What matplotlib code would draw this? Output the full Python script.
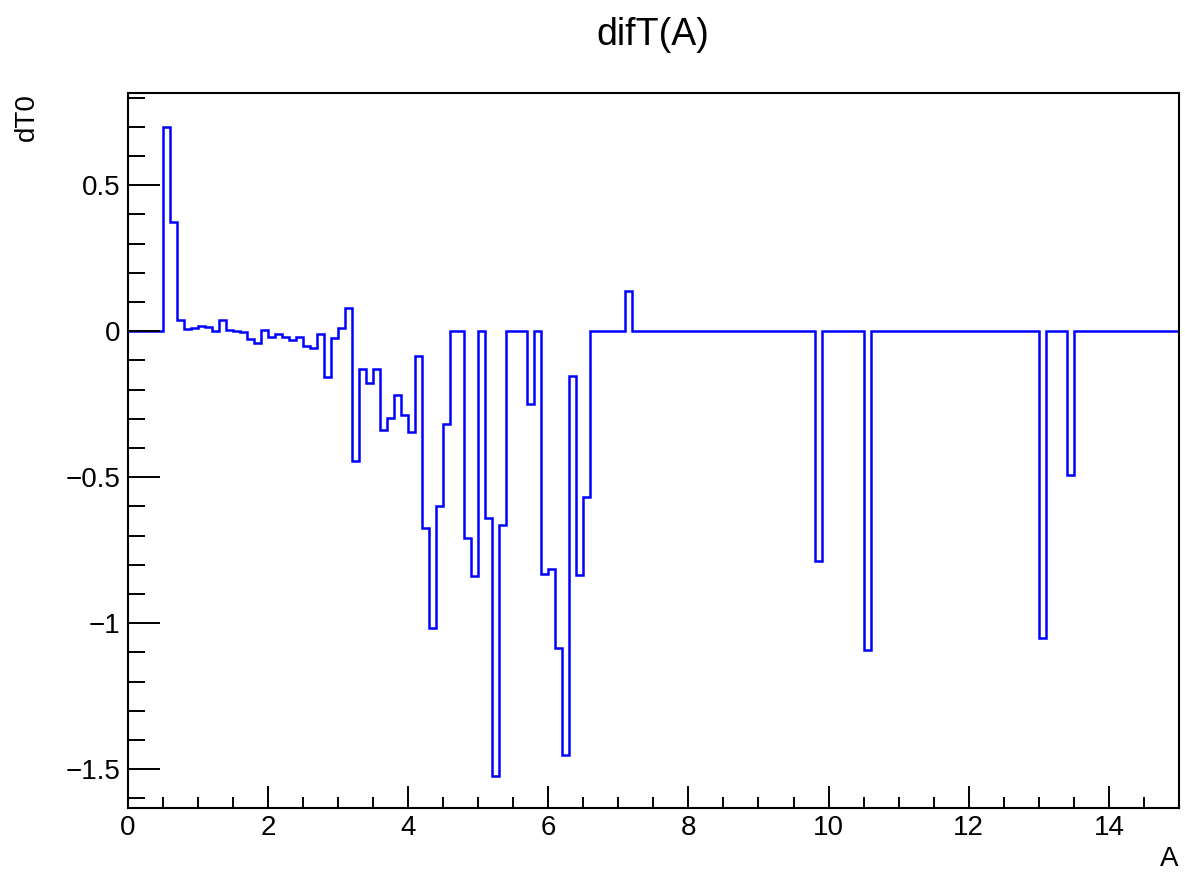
import numpy as np
import matplotlib
matplotlib.use("Agg")
import matplotlib.pyplot as plt
from matplotlib.ticker import MultipleLocator, FuncFormatter

plt.rcParams['font.family'] = ['Liberation Sans', 'DejaVu Sans']

# histogram: 150 bins of width 0.1 on [0, 15], only non-empty bins listed
a_lo = [0.5, 0.6, 0.7, 0.8, 0.9, 1.0, 1.1, 1.2, 1.3, 1.4,
        1.5, 1.6, 1.7, 1.8, 1.9, 2.0, 2.1, 2.2, 2.3, 2.4,
        2.5, 2.6, 2.7, 2.8, 2.9, 3.0, 3.1, 3.2, 3.3, 3.4,
        3.5, 3.6, 3.7, 3.8, 3.9, 4.0, 4.1, 4.2, 4.3, 4.4,
        4.5, 4.8, 4.9, 5.1, 5.2, 5.3, 5.7, 5.9, 6.0, 6.1,
        6.2, 6.3, 6.4, 6.5, 7.1, 9.8, 10.5, 13.0, 13.4]
dt0 = [0.700, 0.373, 0.040, 0.006, 0.011, 0.018, 0.014, 0.000, 0.039, 0.005,
       0.002, -0.004, -0.025, -0.039, 0.005, -0.021, -0.008, -0.021, -0.030, -0.021,
       -0.050, -0.057, -0.008, -0.157, -0.023, 0.011, 0.079, -0.446, -0.130, -0.177,
       -0.130, -0.337, -0.297, -0.218, -0.288, -0.344, -0.085, -0.675, -1.016, -0.600,
       -0.318, -0.709, -0.840, -0.639, -1.525, -0.663, -0.249, -0.833, -0.814, -1.085,
       -1.453, -0.152, -0.836, -0.568, 0.137, -0.788, -1.092, -1.052, -0.491]

edges = np.linspace(0, 15, 151)
vals = np.zeros(150)
vals[np.round(np.array(a_lo) / 0.1).astype(int)] = dt0

W, H = 1185, 874
fig = plt.figure(figsize=(W / 100, H / 100), dpi=100)
ax = fig.add_axes([127.7 / W, 1 - 808 / H, (1179 - 127.7) / W, (808 - 92.7) / H])

ax.stairs(vals, edges, color='#0000ff', lw=1.8, baseline=None)

ax.set_xlim(0, 15)
ax.set_ylim(-1.633, 0.817)

ax.xaxis.set_major_locator(MultipleLocator(2))
ax.xaxis.set_minor_locator(MultipleLocator(0.5))
ax.yaxis.set_major_locator(MultipleLocator(0.5))
ax.yaxis.set_minor_locator(MultipleLocator(0.1))
fmt = FuncFormatter(lambda v, p: ('%g' % v).replace('-', '\u2212'))
ax.xaxis.set_major_formatter(fmt)
ax.yaxis.set_major_formatter(fmt)

ax.tick_params(axis='both', which='both', direction='in', labelsize=20, width=1.4, colors='black')
ax.tick_params(axis='x', which='major', length=16, pad=5)
ax.tick_params(axis='x', which='minor', length=8)
ax.tick_params(axis='y', which='major', length=23, pad=5)
ax.tick_params(axis='y', which='minor', length=12)
for s in ax.spines.values():
    s.set_linewidth(1.5)

fig.text(653 / W, 1 - 45 / H, 'difT(A)', ha='center', va='baseline', fontsize=27)
fig.text(27 / W, 1 - 93 / H, 'dT0', ha='center', va='top', rotation=90, fontsize=20)
fig.text(1178 / W, 1 - 866 / H, 'A', ha='right', va='baseline', fontsize=20)

fig.savefig('out.png', dpi=100)
